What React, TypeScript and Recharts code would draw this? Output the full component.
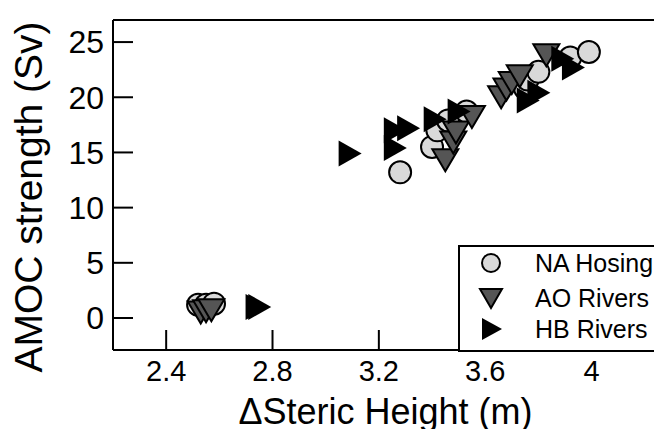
import React from 'react';
import { ScatterChart, Scatter, XAxis, YAxis } from 'recharts';

// NA Hosing (grey circles)
const naHosingX = [2.52, 2.55, 2.58, 3.28, 3.4, 3.42, 3.46, 3.53, 3.75, 3.76, 3.8, 3.92, 3.99];
const naHosingY = [1.2, 1.2, 1.3, 13.2, 15.5, 17.0, 17.9, 18.7, 20.8, 21.6, 22.3, 23.6, 24.1];

// AO Rivers (dark downward triangles)
const aoRiversX = [2.53, 2.55, 2.57, 3.45, 3.48, 3.49, 3.55, 3.66, 3.68, 3.7, 3.73, 3.83];
const aoRiversY = [0.5, 0.6, 0.7, 14.3, 15.9, 16.8, 18.2, 20.0, 20.7, 21.3, 21.9, 23.8];

// HB Rivers (black right triangles)
const hbRiversX = [2.74, 2.75, 3.09, 3.26, 3.26, 3.31, 3.41, 3.5, 3.76, 3.8, 3.89, 3.93];
const hbRiversY = [1.0, 1.0, 14.9, 15.4, 17.0, 17.2, 18.0, 18.7, 19.7, 20.4, 23.5, 22.7];

const xTicks = [2.4, 2.8, 3.2, 3.6, 4];
const yTicks = [0, 5, 10, 15, 20, 25];
const seriesNames = ['NA Hosing', 'AO Rivers', 'HB Rivers'];

const toPoints = (xs: number[], ys: number[]) => xs.map((x, i) => ({ x, y: ys[i] }));

const FONT = '"Liberation Sans", Arial, Helvetica, sans-serif';

const CircleMark = (p: any) => (
  <circle cx={p.cx} cy={p.cy} r={11} fill="#d9d9d9" stroke="#000" strokeWidth={2} />
);
const DownMark = (p: any) => (
  <polygon
    points={`${p.cx - 13},${p.cy - 11} ${p.cx + 13},${p.cy - 11} ${p.cx},${p.cy + 11}`}
    fill="#555555"
    stroke="#000"
    strokeWidth={2}
  />
);
const RightMark = (p: any) => (
  <polygon
    points={`${p.cx - 11},${p.cy - 13} ${p.cx - 11},${p.cy + 13} ${p.cx + 12},${p.cy}`}
    fill="#000"
  />
);

const YLabel = (props: any) => {
  const vb = props.viewBox;
  const cx = vb.x + 42;
  const cy = vb.y + vb.height / 2 + 12;
  return (
    <text x={cx} y={cy} transform={`rotate(-90, ${cx}, ${cy})`} textAnchor="middle" fontSize={39} fontFamily={FONT} fill="#000">
      AMOC strength (Sv)
    </text>
  );
};

const XLabel = (props: any) => {
  const vb = props.viewBox;
  return (
    <text x={vb.x + vb.width / 2} y={vb.y + 74} textAnchor="middle" fontSize={36} fontFamily={FONT} fill="#000">
      ΔSteric Height (m)
    </text>
  );
};

const legendSymbols = [
  <circle cx={33} cy={18} r={9} fill="#d9d9d9" stroke="#000" strokeWidth={2} />,
  <polygon points="22,44 44,44 33,63" fill="#555555" stroke="#000" strokeWidth={2} />,
  <polygon points="24,73 24,95 44,84" fill="#000" />,
];
const legendRows = [18, 53, 84];

export default function App() {
  const axisStroke = { stroke: '#000', strokeWidth: 2 };
  return (
    <div style={{ position: 'absolute', left: 0, top: 0, width: 654, height: 429, overflow: 'hidden', background: '#fff' }}>
      <ScatterChart width={700} height={429} margin={{ top: 0, right: 42, bottom: 0, left: 0 }}>
        <XAxis
          xAxisId="bottom"
          type="number"
          dataKey="x"
          domain={[2.2, 4.25]}
          ticks={xTicks}
          allowDataOverflow
          height={79}
          tickSize={-20}
          tickMargin={30}
          axisLine={axisStroke}
          tickLine={axisStroke}
          tick={{ fontSize: 29, fill: '#000', fontFamily: FONT }}
          tickFormatter={(v: number) => String(v)}
          label={<XLabel />}
        />
        <XAxis
          xAxisId="top"
          orientation="top"
          type="number"
          dataKey="x"
          domain={[2.2, 4.25]}
          ticks={xTicks}
          allowDataOverflow
          height={20}
          tickSize={-20}
          axisLine={axisStroke}
          tickLine={axisStroke}
          tick={false}
        />
        <YAxis
          type="number"
          dataKey="y"
          domain={[-2.9, 27]}
          ticks={yTicks}
          allowDataOverflow
          width={113}
          tickSize={-20}
          tickMargin={29}
          axisLine={axisStroke}
          tickLine={axisStroke}
          tick={{ fontSize: 32, fill: '#000', fontFamily: FONT }}
          label={<YLabel />}
        />
        <Scatter name={seriesNames[0]} xAxisId="bottom" data={toPoints(naHosingX, naHosingY)} shape={CircleMark} isAnimationActive={false} />
        <Scatter name={seriesNames[1]} xAxisId="bottom" data={toPoints(aoRiversX, aoRiversY)} shape={DownMark} isAnimationActive={false} />
        <Scatter name={seriesNames[2]} xAxisId="bottom" data={toPoints(hbRiversX, hbRiversY)} shape={RightMark} isAnimationActive={false} />
      </ScatterChart>
      <div
        style={{
          position: 'absolute',
          left: 458,
          top: 245,
          width: 220,
          height: 103,
          border: '2px solid #000',
          background: '#fff',
        }}
      >
        <svg width={220} height={103} style={{ position: 'absolute', left: -2, top: -2 }}>
          {seriesNames.map((name, i) => (
            <g key={name}>
              {legendSymbols[i]}
              <text x={77} y={legendRows[i] + 9} fontSize={25} fontFamily={FONT} fill="#000">
                {name}
              </text>
            </g>
          ))}
        </svg>
      </div>
    </div>
  );
}
